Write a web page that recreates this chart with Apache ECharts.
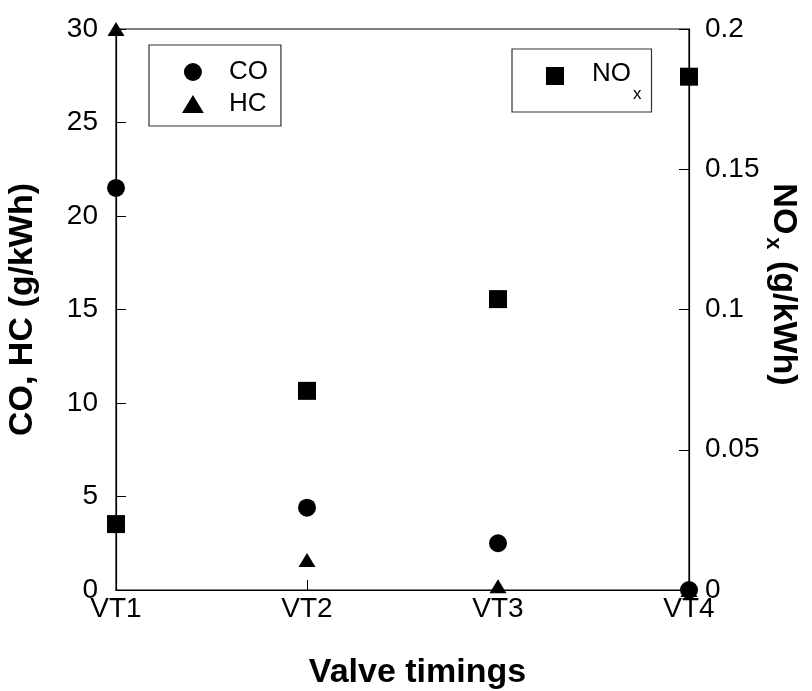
<!DOCTYPE html>
<html>
<head>
<meta charset="utf-8">
<script src="https://cdn.jsdelivr.net/npm/echarts@6/dist/echarts.min.js"></script>
<style>
  html, body { margin: 0; padding: 0; background: #fff; }
  #chart { width: 812px; height: 691px; }
</style>
</head>
<body>
<div id="chart"></div>
<script>
// Emissions per valve timing setting
const timings = ['VT1', 'VT2', 'VT3', 'VT4'];
const coValues = [21.5, 4.4, 2.5, 0];              // g/kWh, left axis
const hcValues = [30, 1.6, 0.2, 0];                // g/kWh, left axis
const noxValues = [0.0235, 0.071, 0.1037, 0.183];  // g/kWh, right axis

const leftTicks = { min: 0, max: 30, interval: 5 };
const rightTicks = { min: 0, max: 0.2, interval: 0.05 };

const FONT = 'Liberation Sans, Arial, sans-serif';
const TICK_SIZE = 28;
const TITLE_SIZE = 34;
const triangle = 'path://M0,14 L8.5,0 L17,14 Z';
const square = 'path://M0,0 L18,0 L18,18 L0,18 Z';

const chart = echarts.init(document.getElementById('chart'), null, { renderer: 'canvas' });

chart.setOption({
  backgroundColor: '#fff',
  animation: false,
  textStyle: { fontFamily: FONT, color: '#000' },
  grid: {
    left: 116, right: 123, top: 29, bottom: 101,
    outerBoundsMode: 'none',
    containLabel: false,
    show: true, borderColor: '#000', borderWidth: 1.2, backgroundColor: 'transparent'
  },
  legend: [
    {
      data: ['CO', 'HC'],
      orient: 'vertical',
      left: 149, top: 45,
      padding: [14, 13, 9, 33],
      itemWidth: 62, itemHeight: 18, itemGap: 6,
      borderColor: '#333', borderWidth: 1.2,
      textStyle: { fontFamily: FONT, fontSize: 26, color: '#000', lineHeight: 22 },
      inactiveColor: '#000'
    },
    {
      data: [{ name: 'NOx', icon: square }],
      left: 512, top: 49,
      padding: [0, 10, 9, 34],
      itemWidth: 64, itemHeight: 18,
      borderColor: '#333', borderWidth: 1.2,
      formatter: () => '{a|NO}{s|x}',
      textStyle: {
        fontFamily: FONT, fontSize: 26, color: '#000',
        rich: {
          a: { fontFamily: FONT, fontSize: 26, color: '#000', lineHeight: 54, verticalAlign: 'top', padding: [12, 0, 0, 0] },
          s: { fontFamily: FONT, fontSize: 17, color: '#000', lineHeight: 52, verticalAlign: 'bottom', padding: [0, 0, 0, 2] }
        }
      }
    }
  ],
  xAxis: {
    type: 'category',
    data: timings,
    boundaryGap: false,
    name: 'Valve timings',
    nameLocation: 'middle',
    nameGap: 66,
    nameTextStyle: { fontFamily: FONT, fontSize: TITLE_SIZE, fontWeight: 'bold', color: '#000', padding: [0, 0, 0, 30] },
    axisLine: { lineStyle: { color: '#000', width: 1.2 } },
    axisTick: { show: true, inside: true, length: 10, lineStyle: { color: '#000' } },
    axisLabel: { fontFamily: FONT, fontSize: TICK_SIZE, color: '#000', margin: 5 },
    splitLine: { show: false }
  },
  yAxis: [
    {
      type: 'value',
      position: 'left',
      min: leftTicks.min, max: leftTicks.max, interval: leftTicks.interval,
      name: 'CO, HC (g/kWh)',
      nameLocation: 'middle',
      nameGap: 76,
      nameTextStyle: { fontFamily: FONT, fontSize: TITLE_SIZE, fontWeight: 'bold', color: '#000' },
      axisLine: { show: true, lineStyle: { color: '#000', width: 1.2 } },
      axisTick: { show: true, inside: true, length: 10, lineStyle: { color: '#000' } },
      axisLabel: { fontFamily: FONT, fontSize: TICK_SIZE, color: '#000', margin: 18 },
      splitLine: { show: false }
    },
    {
      type: 'value',
      position: 'right',
      min: rightTicks.min, max: rightTicks.max, interval: rightTicks.interval,
      name: '{a|NO}{s|x}{a| (g/kWh)}',
      nameLocation: 'middle',
      nameRotate: -90,
      nameGap: 73,
      nameMoveOverlap: false,
      nameTextStyle: {
        fontFamily: FONT, fontSize: TITLE_SIZE, fontWeight: 'bold', color: '#000',
        padding: [0, 50, 0, 0],
        rich: {
          a: { fontFamily: FONT, fontSize: TITLE_SIZE, fontWeight: 'bold', color: '#000', lineHeight: 42, verticalAlign: 'top', padding: [4, 0, 0, 0] },
          s: { fontFamily: FONT, fontSize: 22, fontWeight: 'bold', color: '#000', lineHeight: 42, verticalAlign: 'bottom', padding: [0, 2, 0, 3] }
        }
      },
      axisLine: { show: true, lineStyle: { color: '#000', width: 1.2 } },
      axisTick: { show: true, inside: true, length: 10, lineStyle: { color: '#000' } },
      axisLabel: {
        fontFamily: FONT, fontSize: TICK_SIZE, color: '#000', margin: 16,
        formatter: v => String(+v.toFixed(2))
      },
      splitLine: { show: false }
    }
  ],
  series: [
    {
      name: 'HC', type: 'scatter', yAxisIndex: 0,
      symbol: triangle, symbolSize: [17, 14],
      itemStyle: { color: '#000', opacity: 1 },
      clip: false, z: 3,
      data: hcValues
    },
    {
      name: 'CO', type: 'scatter', yAxisIndex: 0,
      symbol: 'circle', symbolSize: 18,
      itemStyle: { color: '#000', opacity: 1 },
      clip: false, z: 4,
      data: coValues
    },
    {
      name: 'NOx', type: 'scatter', yAxisIndex: 1,
      symbol: square, symbolSize: 18,
      itemStyle: { color: '#000', opacity: 1 },
      clip: false, z: 4,
      data: noxValues
    }
  ]
});
</script>
</body>
</html>
